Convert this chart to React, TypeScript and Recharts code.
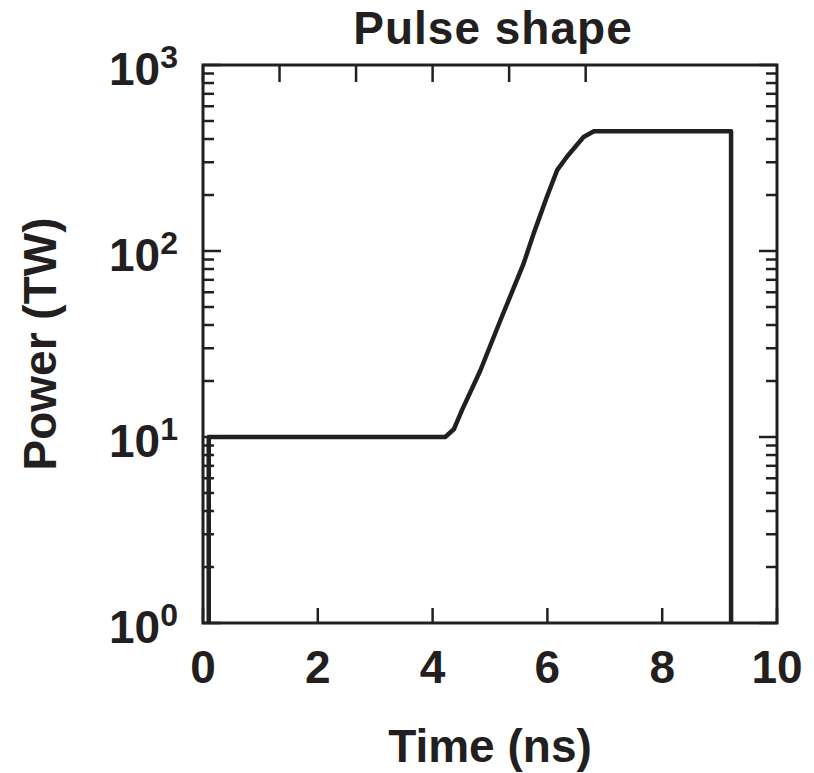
import React from 'react';
import { LineChart, Line, XAxis, YAxis, ReferenceArea } from 'recharts';

// pulse power (TW) vs time (ns)
const times = [0.1, 0.1, 4.22, 4.37, 4.51, 4.83, 5.18, 5.585, 5.76, 5.99, 6.17, 6.34, 6.63, 6.81, 9.2, 9.2];
const powers = [1, 10, 10, 11.0, 13.9, 22.7, 42.3, 85.5, 124, 195, 272, 321, 410, 440, 440, 1];

const xTicks = [0, 2, 4, 6, 8, 10];
const yTicks = [
  1, 2, 3, 4, 5, 6, 7, 8, 9,
  10, 20, 30, 40, 50, 60, 70, 80, 90,
  100, 200, 300, 400, 500, 600, 700, 800, 900,
  1000,
];
const yMajor = [1, 10, 100, 1000];
const yExponents = ['0', '1', '2', '3'];

const data = times.map((t, i) => ({ t, p: powers[i] }));

const INK = '#231f20';
const FONT = '"Liberation Sans", Arial, Helvetica, sans-serif';

function BottomTick(props: any) {
  const { x, y, payload } = props;
  return (
    <g>
      <line x1={x} x2={x} y1={y} y2={y - 15} stroke={INK} strokeWidth={2.5} />
      <text x={x} y={y + 60} textAnchor="middle" fill={INK} fontSize={46} fontWeight="bold" fontFamily={FONT}>
        {payload.value}
      </text>
    </g>
  );
}

function TopTick(props: any) {
  const { x, y } = props;
  return <line x1={x} x2={x} y1={y} y2={y + 17} stroke={INK} strokeWidth={2.5} />;
}

function LeftTick(props: any) {
  const { x, y, payload } = props;
  const idx = yMajor.indexOf(payload.value);
  const len = idx >= 0 ? 18 : 11;
  return (
    <g>
      <line x1={x} x2={x + len} y1={y} y2={y} stroke={INK} strokeWidth={2.5} />
      {idx >= 0 && (
        <text x={x - 25} y={y + 20} textAnchor="end" fill={INK} fontSize={46} fontWeight="bold" fontFamily={FONT}>
          10
          <tspan dy={-17} fontSize={32}>{yExponents[idx]}</tspan>
        </text>
      )}
    </g>
  );
}

function RightTick(props: any) {
  const { x, y, payload } = props;
  const len = yMajor.includes(payload.value) ? 18 : 11;
  return <line x1={x} x2={x - len} y1={y} y2={y} stroke={INK} strokeWidth={2.5} />;
}

export default function App() {
  return (
    <div style={{ position: 'absolute', left: 0, top: 0, width: 814, height: 773, background: '#fff' }}>
      <div
        style={{
          position: 'absolute',
          left: 203,
          width: 580,
          top: 5,
          textAlign: 'center',
          fontFamily: FONT,
          fontWeight: 'bold',
          fontSize: 46,
          lineHeight: 1,
          letterSpacing: 1,
          color: INK,
        }}
      >
        Pulse shape
      </div>
      <LineChart width={814} height={773} data={data} margin={{ top: 0, right: 0, bottom: 0, left: 0 }}>
        <XAxis
          xAxisId="bottom"
          dataKey="t"
          type="number"
          domain={[0, 10]}
          ticks={xTicks}
          interval={0}
          height={150}
          tickSize={0}
          tickMargin={0}
          axisLine={false}
          tickLine={false}
          tick={<BottomTick />}
          allowDataOverflow
          label={{
            value: 'Time (ns)',
            position: 'insideBottom',
            offset: 11,
            fill: INK,
            fontSize: 46,
            fontWeight: 'bold',
            fontFamily: FONT,
          }}
        />
        <XAxis
          xAxisId="top"
          orientation="top"
          type="number"
          domain={[0, 10]}
          ticks={xTicks}
          interval={0}
          height={65}
          tickSize={0}
          tickMargin={0}
          axisLine={false}
          tickLine={false}
          tick={<TopTick />}
          allowDataOverflow
        />
        <YAxis
          yAxisId="left"
          type="number"
          scale="log"
          domain={[1, 1000]}
          ticks={yTicks}
          interval={0}
          width={203}
          tickSize={0}
          tickMargin={0}
          axisLine={false}
          tickLine={false}
          tick={<LeftTick />}
          allowDataOverflow
          label={{
            value: 'Power (TW)',
            angle: -90,
            position: 'insideLeft',
            offset: 40,
            fill: INK,
            fontSize: 46,
            fontWeight: 'bold',
            fontFamily: FONT,
            style: { textAnchor: 'middle' },
          }}
        />
        <YAxis
          yAxisId="right"
          orientation="right"
          type="number"
          scale="log"
          domain={[1, 1000]}
          ticks={yTicks}
          interval={0}
          width={37}
          tickSize={0}
          tickMargin={0}
          axisLine={false}
          tickLine={false}
          tick={<RightTick />}
          allowDataOverflow
        />
        <ReferenceArea
          xAxisId="bottom"
          yAxisId="left"
          x1={0}
          x2={10}
          y1={1}
          y2={1000}
          fill="none"
          stroke={INK}
          strokeWidth={3}
          ifOverflow="visible"
        />
        <Line
          xAxisId="bottom"
          yAxisId="left"
          type="linear"
          dataKey="p"
          stroke={INK}
          strokeWidth={4.5}
          strokeLinejoin="round"
          dot={false}
          isAnimationActive={false}
        />
      </LineChart>
    </div>
  );
}
